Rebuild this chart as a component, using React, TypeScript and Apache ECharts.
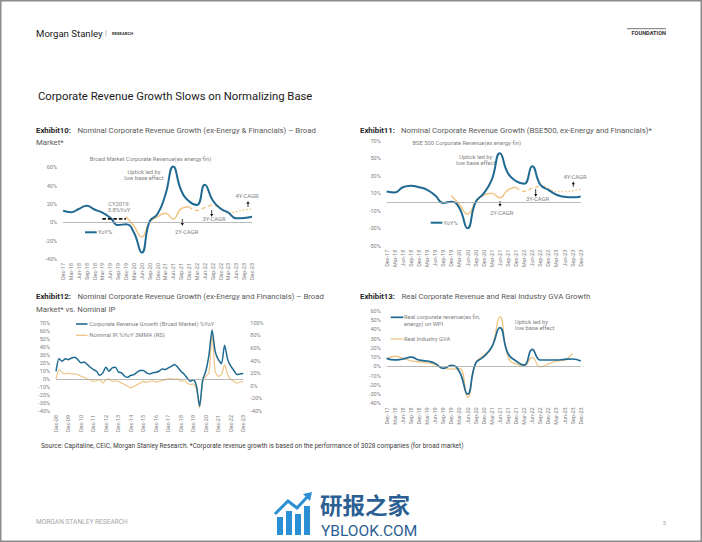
import React, { useEffect, useRef } from 'react';
import * as echarts from 'echarts';

// ---------- categories ----------
const quarters17 = ['Dec-17','Mar-18','Jun-18','Sep-18','Dec-18','Mar-19','Jun-19','Sep-19','Dec-19','Mar-20','Jun-20','Sep-20','Dec-20','Mar-21','Jun-21','Sep-21','Dec-21','Mar-22','Jun-22','Sep-22','Dec-22','Mar-23','Jun-23','Sep-23','Dec-23'];
const quarters08 = [
  'Dec-08','Mar-09','Jun-09','Sep-09','Dec-09','Mar-10','Jun-10','Sep-10','Dec-10','Mar-11','Jun-11','Sep-11','Dec-11',
  'Mar-12','Jun-12','Sep-12','Dec-12','Mar-13','Jun-13','Sep-13','Dec-13','Mar-14','Jun-14','Sep-14','Dec-14',
  'Mar-15','Jun-15','Sep-15','Dec-15','Mar-16','Jun-16','Sep-16','Dec-16','Mar-17','Jun-17','Sep-17','Dec-17',
  'Mar-18','Jun-18','Sep-18','Dec-18','Mar-19','Jun-19','Sep-19','Dec-19','Mar-20','Jun-20','Sep-20','Dec-20',
  'Mar-21','Jun-21','Sep-21','Dec-21','Mar-22','Jun-22','Sep-22','Dec-22','Mar-23','Jun-23','Sep-23','Dec-23'];

// ---------- Exhibit 10 (broad market) ----------
const ex10YoY = [12.7, 11, 14.5, 18, 14, 10.5, 5, -3, -2, -11, -33, 1, 9, 30, 61, 35, 23, 19, 41, 24, 15, 10.5, 4.4, 4.7, 6];
const ex10Cagr2Y = [null, null, null, null, null, null, null, null, 6, -4, -16, 0, 6, 9.8, 3.6, 15, 17, null, null, null, null, null, null, null, null];
const ex10Cagr3Y = [null, null, null, null, null, null, null, null, null, null, null, null, null, null, null, null, 17, 13, 16, 18.5, 16, null, null, null, null];
const ex10Cagr4Y = [null, null, null, null, null, null, null, null, null, null, null, null, null, null, null, null, null, null, null, null, 16, 10, 11.5, 13.4, 14.4];
const ex10CY2019 = [null, null, null, null, null, 3.8, 3.8, 3.8, 3.8, null, null, null, null, null, null, null, null, null, null, null, null, null, null, null, null];

// ---------- Exhibit 11 (BSE500) ----------
const ex11YoY = [12.2, 11, 17, 18.7, 17, 14, 7.5, -1, 0.5, -7, -30, 0, 10, 25.6, 56, 33, 24, 21, 41, 20, 14, 8.4, 6, 5.4, 6.5];
const ex11Cagr2Y = [null, null, null, null, null, null, null, null, 7.6, -3, -14, 0, 8, 10, 5, 14, 17, null, null, null, null, null, null, null, null];
const ex11Cagr3Y = [null, null, null, null, null, null, null, null, null, null, null, null, null, null, null, null, 17, 12.5, 16, 18, 16, null, null, null, null];
const ex11Cagr4Y = [null, null, null, null, null, null, null, null, null, null, null, null, null, null, null, null, null, null, null, null, 16, 12, 12, 13, 15];

// ---------- Exhibit 12 (revenue vs nominal IP) ----------
const ex12Revenue = [
  9.5, 25, 22, 25, 24, 26, 27, 24, 20, 21, 18, 14.5, 11.6,
  9.5, 4.6, 7.5, 14.5, 9.5, 13.7, 14.5, 8.7, 7.5, 3.3, 2, 4.6,
  5.4, 8.3, 10.4, 10.4, 7.5, 6.2, 7.5, 8.3, 9.5, 12.4, 11.6, 13.7,
  15.8, 18, 14.5, 9.5, 6.2, 1.2, -3, -1, -9, -34, -1, 9.5,
  30, 61, 34, 24, 19, 42, 24, 15.8, 10.4, 5.4, 6.2, 6.6];
const ex12NominalIP = [
  10.8, 25.5, 21, 18.7, 20, 19, 18.7, 17.6, 15, 13.4, 10.8, 9.7, 7,
  8, 9.7, 4.4, 9.7, 10.8, 7, 8, 7, 4.4, 1.8, -0.8, -3.5,
  -0.8, 1.8, 4.4, 7, 5.5, 7, 8, 6, 7, 8, 9.7, 10.8,
  11.3, 10.2, 10.8, 7, 8, 4.4, 1.8, 2.8, -6, -35, 7, 15,
  20, 81, 23, 15, 17.6, 33, 17.6, 9.7, 7, 4.4, 6, 6];

// ---------- Exhibit 13 (real revenue vs real GVA) ----------
const ex13RealRevenue = [8.7, 7, 8, 10, 6.9, 5.8, 3.2, -2.2, 1.1, -5.8, -30, 3.2, 10.5, 21, 42, 14, 5.8, 1.4, 18.4, 6.9, 6.9, 6.9, 7.6, 8, 5.8];
const ex13RealGVA = [8, 11, 9, 6, 5, 4, 2, -2.2, -2.9, -2.2, -33.6, 3.5, 12, 21, 53.8, 10.5, 2.5, 1, 9.7, -0.4, 2.5, 5.8, 6.9, 14, null];

// ---------- styling ----------
const FONT = 'Roboto, "Noto Sans", "DejaVu Sans", sans-serif';
const GRAY = '#808080';
const BLUE = '#1f6a92';
const GOLD = '#efc585';
const ZERO = '#a8a8a8';

function txt(x: number, y: number, text: string, o: any = {}) {
  return {
    type: 'text', x, y, silent: true,
    style: {
      text, fill: o.fill ?? GRAY, fontSize: o.size ?? 5.8, fontFamily: o.font ?? FONT,
      fontWeight: o.weight ?? 'normal', align: o.align ?? 'left', verticalAlign: 'middle',
    },
  };
}
function arrow(x: number, yTail: number, yHead: number) {
  const d = yHead < yTail ? 1 : -1;
  return [
    { type: 'line', silent: true, shape: { x1: x, y1: yTail, x2: x, y2: yHead + d * 2 }, style: { stroke: '#111', lineWidth: 0.8 } },
    { type: 'polygon', silent: true, shape: { points: [[x - 1.6, yHead + d * 2.8], [x + 1.6, yHead + d * 2.8], [x, yHead]] }, style: { fill: '#111' } },
  ];
}
function legendLine(x1: number, x2: number, y: number, color: string, w: number) {
  return { type: 'line', silent: true, shape: { x1, y1: y, x2, y2: y }, style: { stroke: color, lineWidth: w } };
}
const zeroMark = {
  silent: true, symbol: ['none', 'none'], label: { show: false },
  lineStyle: { color: ZERO, width: 0.8, type: 'solid' }, data: [{ yAxis: 0 }],
};
const axisLabel = { fontSize: 5.5, color: GRAY, fontFamily: FONT };

function xAxis(grid: number, data: string[], interval: number) {
  return {
    type: 'category', gridIndex: grid, data, boundaryGap: false,
    axisLine: { show: false, onZero: false }, axisTick: { show: false }, splitLine: { show: false },
    axisLabel: { ...axisLabel, rotate: 90, interval, margin: 4 },
  };
}
function yAxis(grid: number, min: number, max: number, interval: number, position = 'left', margin = 6) {
  return {
    type: 'value', gridIndex: grid, min, max, interval, position,
    axisLine: { show: false }, axisTick: { show: false }, splitLine: { show: false },
    axisLabel: { ...axisLabel, formatter: '{value}%', margin },
  };
}
function line(name: string, xi: number, yi: number, data: any[], color: string, width: number, extra: any = {}) {
  return {
    type: 'line', name, xAxisIndex: xi, yAxisIndex: yi, data, smooth: extra.smooth ?? true,
    symbol: 'none', clip: false, connectNulls: false,
    lineStyle: { color, width, type: extra.type ?? 'solid' }, itemStyle: { color },
    z: extra.z ?? 2, ...(extra.markLine ? { markLine: extra.markLine } : {}),
  };
}

const option: any = {
  animation: false,
  backgroundColor: '#ffffff',
  grid: [
    { left: 63, top: 167.3, width: 189, height: 91.7, outerBoundsMode: 'none' },
    { left: 386.7, top: 141, width: 194, height: 104.7, outerBoundsMode: 'none' },
    { left: 56, top: 322.7, width: 187.3, height: 88.3, outerBoundsMode: 'none' },
    { left: 386.7, top: 311, width: 194, height: 92.3, outerBoundsMode: 'none' },
  ],
  xAxis: [xAxis(0, quarters17, 0), xAxis(1, quarters17, 0), xAxis(2, quarters08, 3), xAxis(3, quarters17, 0)],
  yAxis: [
    yAxis(0, -40, 60, 20),
    yAxis(1, -50, 70, 20),
    yAxis(2, -40, 70, 10),
    yAxis(2, -40, 100, 20, 'right', 7),
    yAxis(3, -40, 60, 10),
  ],
  series: [
    line('YoY%', 0, 0, ex10YoY, BLUE, 2, { z: 3, markLine: zeroMark }),
    line('2Y-CAGR', 0, 0, ex10Cagr2Y, GOLD, 1.5),
    line('3Y-CAGR', 0, 0, ex10Cagr3Y, GOLD, 1.5, { type: [4, 3] }),
    line('4Y-CAGR', 0, 0, ex10Cagr4Y, GOLD, 1.5, { type: [1.5, 2] }),
    line('CY2019: 3.8%YoY', 0, 0, ex10CY2019, '#111111', 1.8, { type: [3.5, 2], smooth: false, z: 4 }),

    line('YoY% (BSE500)', 1, 1, ex11YoY, BLUE, 2, { z: 3, markLine: zeroMark }),
    line('2Y-CAGR (BSE500)', 1, 1, ex11Cagr2Y, GOLD, 1.5),
    line('3Y-CAGR (BSE500)', 1, 1, ex11Cagr3Y, GOLD, 1.5, { type: [4, 3] }),
    line('4Y-CAGR (BSE500)', 1, 1, ex11Cagr4Y, GOLD, 1.5, { type: [1.5, 2] }),

    line('Nominal IP, %YoY 3MMA (RS)', 2, 3, ex12NominalIP, GOLD, 1.2, { smooth: 0.25 }),
    line('Corporate Revenue Growth (Broad Market) %YoY', 2, 2, ex12Revenue, BLUE, 1.5, { smooth: 0.25, z: 3, markLine: zeroMark }),

    line('Real Industry GVA', 3, 4, ex13RealGVA, GOLD, 1.3),
    line('Real corporate revenue(ex fin, energy) on WPI', 3, 4, ex13RealRevenue, BLUE, 1.7, { z: 3, markLine: zeroMark }),
  ],
  graphic: [
    // page frame
    { type: 'rect', silent: true, shape: { x: 0.75, y: 0.75, width: 700.5, height: 540.5 }, style: { fill: 'none', stroke: '#8c8c8c', lineWidth: 1.5 } },
    // header
    txt(36, 33, 'Morgan Stanley', { size: 9.6, fill: '#1a1a1a' }),
    txt(105, 33, '|', { size: 7, fill: '#8c8c8c' }),
    txt(112, 33.3, 'RESEARCH', { size: 4.2, weight: 'bold', fill: '#333333' }),
    { type: 'line', silent: true, shape: { x1: 627, y1: 28.7, x2: 666, y2: 28.7 }, style: { stroke: '#666', lineWidth: 0.9 } },
    txt(666, 33.4, 'FOUNDATION', { size: 5.6, weight: 'bold', fill: '#333333', align: 'right' }),
    // page title
    txt(38, 96, 'Corporate Revenue Growth Slows on Normalizing Base', { size: 11.3, fill: '#1a1a1a' }),

    // exhibit titles
    txt(36, 130, 'Exhibit10:', { size: 7.8, weight: 'bold', fill: '#262626' }),
    txt(77.5, 130, 'Nominal Corporate Revenue Growth (ex-Energy & Financials) – Broad', { size: 7.8, fill: '#595959' }),
    txt(36, 142, 'Market*', { size: 7.8, fill: '#595959' }),
    txt(360, 130, 'Exhibit11:', { size: 7.8, weight: 'bold', fill: '#262626' }),
    txt(401, 130, 'Nominal Corporate Revenue Growth (BSE500, ex-Energy and Financials)*', { size: 7.8, fill: '#595959' }),
    txt(36, 296, 'Exhibit12:', { size: 7.8, weight: 'bold', fill: '#262626' }),
    txt(77.5, 296, 'Nominal Corporate Revenue Growth (ex-Energy and Financials) – Broad', { size: 7.8, fill: '#595959' }),
    txt(36, 309, 'Market* vs. Nominal IP', { size: 7.8, fill: '#595959' }),
    txt(360, 296, 'Exhibit13:', { size: 7.8, weight: 'bold', fill: '#262626' }),
    txt(401.5, 296, 'Real Corporate Revenue and Real Industry GVA Growth', { size: 7.8, fill: '#595959' }),

    // exhibit 10 annotations
    txt(150.5, 159, 'Broad Market Corporate Revenue(ex energy fin)', { align: 'center', size: 5.8 }),
    txt(144, 171.7, 'Uptick led by', { align: 'center' }),
    txt(144, 177.5, 'low base effect', { align: 'center' }),
    txt(119, 204, 'CY2019:', { align: 'center' }),
    txt(119, 210, '3.8%YoY', { align: 'center' }),
    txt(247, 196, '4Y-CAGR', { align: 'center' }),
    txt(214, 219.3, '3Y-CAGR', { align: 'center' }),
    txt(186.7, 231.7, '2Y-CAGR', { align: 'center' }),
    ...arrow(248, 207, 201),
    ...arrow(211.7, 210, 216.7),
    ...arrow(182.3, 219, 225.7),
    legendLine(85, 96.7, 232.3, BLUE, 2),
    txt(98, 232.3, 'YoY%'),

    // exhibit 11 annotations
    txt(466.7, 143.3, 'BSE 500 Corporate Revenue(ex energy fin)', { align: 'center' }),
    txt(475.7, 156.7, 'Uptick led by', { align: 'center' }),
    txt(475.7, 162.7, 'low base effect', { align: 'center' }),
    txt(575, 177.3, '4Y-CAGR', { align: 'center' }),
    txt(537.5, 199.3, '3Y-CAGR', { align: 'center' }),
    txt(501.7, 212.7, '2Y-CAGR', { align: 'center' }),
    ...arrow(573.3, 187, 181.5),
    ...arrow(535.7, 189, 196.7),
    ...arrow(500, 201, 206.7),
    legendLine(430.7, 442.3, 222.7, BLUE, 2),
    txt(443.5, 222.7, 'YoY%'),

    // exhibit 12 legend
    legendLine(76, 87.5, 324, BLUE, 1.6),
    txt(89.3, 324, 'Corporate Revenue Growth (Broad Market) %YoY'),
    legendLine(76, 87.5, 335.3, GOLD, 1.3),
    txt(89.3, 335.3, 'Nominal IP, %YoY 3MMA (RS)'),

    // exhibit 13 legend + annotation
    legendLine(390.7, 403.3, 317.3, BLUE, 1.7),
    txt(404, 317.3, 'Real corporate revenue(ex fin,'),
    txt(404, 323.5, 'energy) on WPI'),
    legendLine(390.7, 403.3, 339, GOLD, 1.3),
    txt(404, 339, 'Real Industry GVA'),
    txt(515, 322.3, 'Uptick led by'),
    txt(515, 328, 'low base effect'),

    // source
    txt(41, 446, 'Source: Capitaline, CEIC, Morgan Stanley Research. *Corporate revenue growth is based on the performance of 3028 companies (for broad market)', { size: 6.5, fill: '#404040' }),

    // watermark
    { type: 'rect', silent: true, shape: { x: 277, y: 517, width: 6, height: 18 }, style: { fill: '#2b8fd6' } },
    { type: 'rect', silent: true, shape: { x: 286, y: 511, width: 6, height: 24 }, style: { fill: '#2b8fd6' } },
    { type: 'rect', silent: true, shape: { x: 295, y: 514, width: 6, height: 21 }, style: { fill: '#2b8fd6' } },
    { type: 'rect', silent: true, shape: { x: 304, y: 506, width: 6, height: 29 }, style: { fill: '#2b8fd6' } },
    { type: 'polyline', silent: true, shape: { points: [[275, 514], [288, 501], [297, 508], [309, 495]] }, style: { stroke: '#2b8fd6', lineWidth: 3, fill: 'none' } },
    { type: 'polygon', silent: true, shape: { points: [[303, 494], [312, 492], [310, 501]] }, style: { fill: '#2b8fd6' } },
    txt(320, 504, '研报之家', { size: 22.5, fill: '#2c5f93', font: '"Noto Sans CJK SC", sans-serif', weight: 'bold' }),
    txt(321, 530.5, 'YBLOOK.COM', { size: 15.5, fill: '#2c5f93', font: 'Roboto, sans-serif' }),

    // footer
    txt(36, 522, 'MORGAN STANLEY RESEARCH', { size: 6.6, fill: '#a6a6a6' }),
    txt(666, 522, '5', { size: 6, fill: '#a6a6a6', align: 'right' }),
  ],
};

export default function App() {
  const ref = useRef<HTMLDivElement>(null);
  useEffect(() => {
    document.body.style.margin = '0';
    const chart = echarts.init(ref.current!, null, { renderer: 'svg' });
    chart.setOption(option);
    return () => chart.dispose();
  }, []);
  return <div ref={ref} style={{ position: 'absolute', left: 0, top: 0, width: 702, height: 542, background: '#fff' }} />;
}
